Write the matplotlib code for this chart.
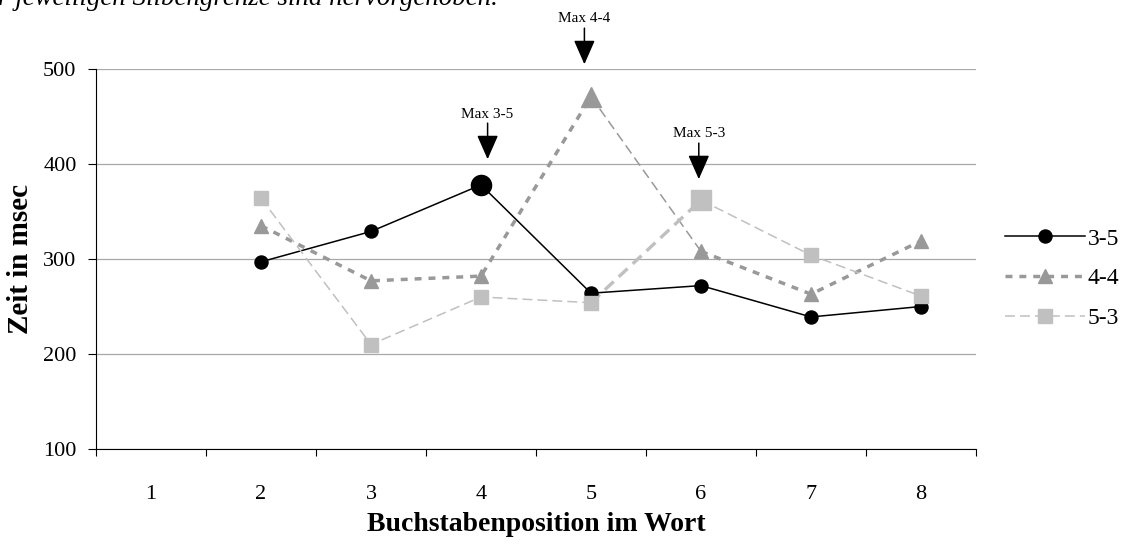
import numpy as np
import matplotlib
matplotlib.use("Agg")
import matplotlib.pyplot as plt
from matplotlib.lines import Line2D

plt.rcParams['font.family'] = ['Liberation Serif', 'DejaVu Serif']

# data
CATEGORIES = [1, 2, 3, 4, 5, 6, 7, 8]
CAT_LABELS = ['1', '2', '3', '4', '5', '6', '7', '8']
POSITIONS = [2, 3, 4, 5, 6, 7, 8]
VALS_35 = [297, 329, 378, 264, 272, 239, 250]
VALS_44 = [335, 277, 282, 471, 308, 263, 319]
VALS_53 = [364, 210, 260, 254, 362, 304, 261]
SERIES_NAMES = ['3-5', '4-4', '5-3']
MAX_POS = [4, 5, 6]          # highlighted maximum per series
MAX_LABELS = ['Max 3-5', 'Max 4-4', 'Max 5-3']

GRAY_44 = '#999999'
GRAY_53 = '#c0c0c0'

STYLES = {
    '3-5': dict(color='black', lw=1.1, dashes=(None, None), marker='o'),
    '4-4': dict(color=GRAY_44, lw=2.5, dashes=(2, 2), marker='^'),
    '5-3': dict(color=GRAY_53, lw=1.1, dashes=(6.5, 3.3), marker='s'),
}
# in the original the 5->6 segment of 4-4 and 5-3 have swapped line weights
SEG_OVERRIDE = {
    '4-4': dict(lw=1.1, dashes=(6.5, 3.3)),
    '5-3': dict(lw=2.4, dashes=(3.6, 2.1)),
}
MS_SMALL, MS_BIG = 9.4, 14.5

fig = plt.figure(figsize=(11.31, 5.44), dpi=100)
ax = fig.add_axes([96 / 1131, 1 - 449 / 544, 880 / 1131, 380 / 544])

x = np.array(POSITIONS, dtype=float)
for name, vals, pmax in zip(SERIES_NAMES, [VALS_35, VALS_44, VALS_53], MAX_POS):
    st = STYLES[name]
    v = np.array(vals, dtype=float)
    for idx in ([0, 1, 2, 3], [4, 5, 6]):
        line, = ax.plot(x[idx], v[idx], color=st['color'], lw=st['lw'],
                        solid_capstyle='butt', dash_capstyle='butt')
        if st['dashes'][0] is not None:
            line.set_dashes(st['dashes'])
    # middle segment (5 -> 6)
    ov = SEG_OVERRIDE.get(name, dict(lw=st['lw'], dashes=st['dashes']))
    line, = ax.plot(x[3:5], v[3:5], color=st['color'], lw=ov['lw'],
                    dash_capstyle='butt', solid_capstyle='butt')
    if ov['dashes'][0] is not None:
        line.set_dashes(ov['dashes'])
    # markers, highlighted maximum drawn larger
    big = x == pmax
    ax.plot(x[~big], v[~big], ls='none', marker=st['marker'], ms=MS_SMALL,
            color=st['color'], mec=st['color'], zorder=3)
    ax.plot(x[big], v[big], ls='none', marker=st['marker'], ms=MS_BIG,
            color=st['color'], mec=st['color'], zorder=3)

# "Max" annotations
ANNOT = [(4.06, 452, 443, 405), (4.94, 553, 543, 505), (5.98, 432, 422, 384)]
for lab, (ax_x, ty, y0, y1) in zip(MAX_LABELS, ANNOT):
    ax.text(ax_x, ty, lab, ha='center', va='center', fontsize=11, clip_on=False)
    ax.annotate('', xy=(ax_x, y1), xytext=(ax_x, y0),
                arrowprops=dict(arrowstyle='-|>,head_length=0.75,head_width=0.33',
                                mutation_scale=20, lw=1.1, color='black',
                                shrinkA=0, shrinkB=0),
                annotation_clip=False)

ax.set_xlim(0.5, 8.5)
ax.set_ylim(100, 500)
ax.set_yticks([100, 200, 300, 400, 500])
ax.yaxis.grid(True, color='#a8a8a8', lw=0.9)
ax.set_axisbelow(True)
ax.set_xticks(np.arange(0.5, 9, 1))
ax.set_xticklabels([])
ax.set_xticks(CATEGORIES, minor=True)
ax.set_xticklabels(CAT_LABELS, minor=True)
ax.tick_params(axis='x', which='major', direction='out', length=5, width=0.8)
ax.tick_params(axis='x', which='minor', length=0, pad=26, labelsize=16)
ax.tick_params(axis='y', direction='out', length=6, width=0.8, pad=8, labelsize=16)
for s in ['top', 'right']:
    ax.spines[s].set_visible(False)
for s in ['left', 'bottom']:
    ax.spines[s].set_linewidth(0.8)

ax.set_xlabel('Buchstabenposition im Wort', fontsize=20, fontweight='bold')
ax.xaxis.set_label_coords(0.5, -0.165)
ax.set_ylabel('Zeit in msec', fontsize=21, fontweight='bold')
ax.yaxis.set_label_coords(-0.071, 0.5)

handles = []
for name in SERIES_NAMES:
    st = STYLES[name]
    h = Line2D([], [], color=st['color'], lw=st['lw'], marker=st['marker'],
               ms=MS_SMALL, mec=st['color'], dash_capstyle='butt')
    if st['dashes'][0] is not None:
        h.set_dashes(st['dashes'])
    handles.append(h)
fig.legend(handles, SERIES_NAMES, loc='upper left',
           bbox_to_anchor=(1005 / 1131, 1 - 228 / 544), frameon=False,
           fontsize=17, handlelength=3.4, handletextpad=0.1,
           borderpad=0, borderaxespad=0, labelspacing=0.78, numpoints=1)

fig.text(-0.002, 1 - 5 / 544, 'r jeweiligen Silbengrenze sind hervorgehoben.',
         fontsize=19.4, style='italic', va='baseline', ha='left')

fig.savefig('out.png', dpi=100)
